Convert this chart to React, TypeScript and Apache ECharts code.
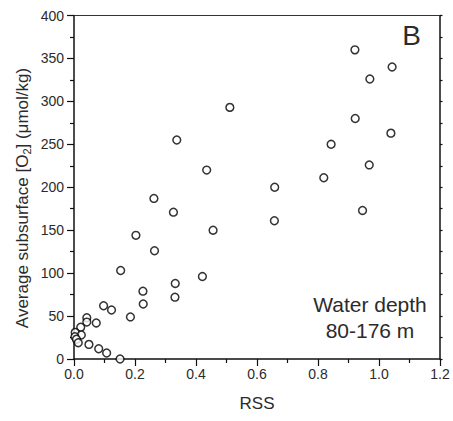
import React, { useEffect, useRef } from "react";
import * as echarts from "echarts";

const rssValues = [
  0.921, 1.043, 0.97, 0.511, 0.922, 1.039, 0.337, 0.843, 0.435, 0.968, 0.819,
  0.658, 0.262, 0.326, 0.946, 0.657, 0.456, 0.203, 0.264, 0.153, 0.421, 0.332,
  0.226, 0.331, 0.227, 0.097, 0.123, 0.185, 0.042, 0.042, 0.073, 0.022, 0.004,
  0.024, 0.003, 0.008, 0.014, 0.049, 0.081, 0.107, 0.151,
];
const o2Values = [
  360, 340, 326, 293, 280, 263, 255, 250, 220, 226, 211, 200, 187, 171, 173,
  161, 150, 144, 126, 103, 96, 88, 79, 72, 64, 62, 57, 49, 48, 43, 42, 37, 31,
  28, 26, 23, 19, 17, 12, 7, 0,
];

const xTitle = "RSS";
const panelLabel = "B";
const noteLines = ["Water depth", "80-176 m"];

const FONT = "'Liberation Sans', Arial, Helvetica, sans-serif";
const TXT = "#2b2b2b";
const AX = "#111";

export default function App() {
  const ref = useRef<HTMLDivElement>(null);
  useEffect(() => {
    if (!ref.current) return;
    const chart = echarts.init(ref.current, undefined, { renderer: "svg" });
    const data = rssValues.map((x, i) => [x, o2Values[i]]);
    chart.setOption({
      animation: false,
      backgroundColor: "#fff",
      grid: { left: 74, right: 13, top: 15.5, bottom: 62, containLabel: false },
      xAxis: [
        {
          type: "value",
          position: "bottom",
          min: 0,
          max: 1.2,
          interval: 0.2,
          name: xTitle,
          nameLocation: "middle",
          nameGap: 36,
          nameTextStyle: { fontFamily: FONT, fontSize: 17, color: TXT },
          axisLine: { show: true, onZero: false, lineStyle: { color: AX, width: 1.5 } },
          axisTick: { show: true, inside: false, length: 7, lineStyle: { color: AX, width: 1.2 } },
          minorTick: { show: true, splitNumber: 2, length: 4, lineStyle: { color: AX, width: 1.2 } },
          axisLabel: {
            margin: 8,
            fontFamily: FONT,
            fontSize: 14,
            color: TXT,
            formatter: (v: number) => v.toFixed(1),
          },
          splitLine: { show: false },
        },
        {
          type: "value",
          position: "top",
          min: 0,
          max: 1.2,
          axisLine: { show: true, onZero: false, lineStyle: { color: "#333", width: 1 } },
          axisTick: { show: false },
          axisLabel: { show: false },
          splitLine: { show: false },
        },
      ],
      yAxis: [
        {
          type: "value",
          position: "left",
          min: 0,
          max: 400,
          interval: 50,
          axisLine: { show: true, onZero: false, lineStyle: { color: AX, width: 1.5 } },
          axisTick: { show: true, inside: false, length: 7, lineStyle: { color: AX, width: 1.2 } },
          minorTick: { show: true, splitNumber: 2, length: 4, lineStyle: { color: AX, width: 1.2 } },
          axisLabel: { margin: 10, fontFamily: FONT, fontSize: 14, color: TXT },
          splitLine: { show: false },
        },
        {
          type: "value",
          position: "right",
          min: 0,
          max: 400,
          interval: 25,
          axisLine: { show: true, onZero: false, lineStyle: { color: AX, width: 1.5 } },
          axisTick: { show: true, inside: false, length: 2.5, lineStyle: { color: AX, width: 1.2 } },
          axisLabel: { show: false },
          splitLine: { show: false },
        },
      ],
      series: [
        {
          type: "scatter",
          xAxisIndex: 0,
          yAxisIndex: 0,
          data,
          symbol: "circle",
          symbolSize: 7.8,
          itemStyle: { color: "#fff", borderColor: "#000", borderWidth: 1.5 },
          z: 5,
        },
      ],
      graphic: [
        {
          type: "text",
          x: 22,
          y: 198,
          rotation: Math.PI / 2,
          style: {
            text: "{a|Average subsurface [O}{s|2}{a|] (μmol/kg)}",
            align: "center",
            verticalAlign: "middle",
            rich: {
              a: { fontFamily: FONT, fontSize: 17, lineHeight: 20, fill: TXT, verticalAlign: "middle" },
              s: { fontFamily: FONT, fontSize: 11, lineHeight: 8, fill: TXT, verticalAlign: "bottom" },
            },
          },
        },
        {
          type: "text",
          x: 411.7,
          y: 35.5,
          style: {
            text: panelLabel,
            fontFamily: FONT,
            fontSize: 28,
            fill: TXT,
            align: "center",
            verticalAlign: "middle",
          },
        },
        {
          type: "text",
          x: 370,
          y: 317,
          style: {
            text: noteLines.join("\n"),
            fontFamily: FONT,
            fontSize: 21,
            lineHeight: 26,
            fill: TXT,
            align: "center",
            verticalAlign: "middle",
          },
        },
      ],
    });
    return () => chart.dispose();
  }, []);
  return <div ref={ref} style={{ width: 453, height: 421, position: "absolute", left: 0, top: 0 }} />;
}
